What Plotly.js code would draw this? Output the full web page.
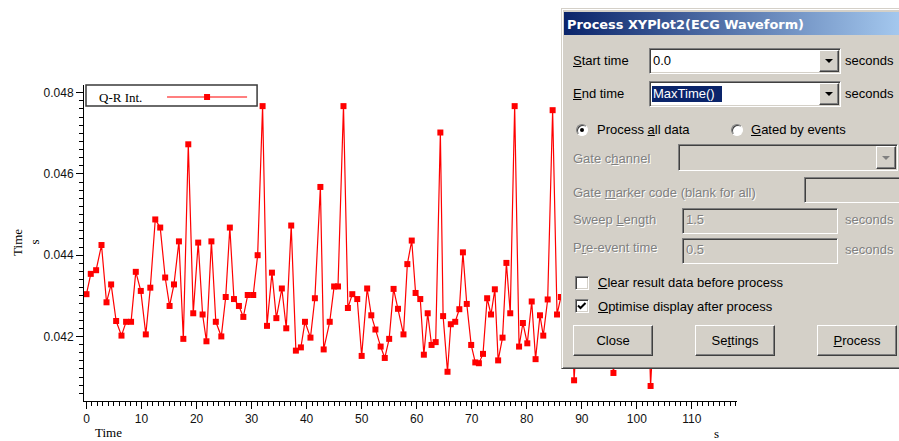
<!DOCTYPE html>
<html><head><meta charset="utf-8">
<script src="https://cdn.plot.ly/plotly-3.0.1.min.js"></script>
<style>
html,body{margin:0;padding:0;background:#fff;}
#wrap{position:relative;width:899px;height:441px;overflow:hidden;}
#chart{position:absolute;left:0;top:0;width:899px;height:441px;}
.dlg{position:absolute;left:561px;top:8px;width:343px;height:359px;background:#D4D0C8;border:1px solid;border-color:#D4D0C8 #404040 #404040 #D4D0C8;box-shadow:inset 1px 1px #fff,inset -1px -1px #808080;}
.title{position:absolute;left:564px;top:12px;width:340px;height:23px;background:linear-gradient(to right,#0A246A,#A6CAF0);}
.tt{position:absolute;left:567px;top:16px;font:bold 12.9px "DejaVu Sans",sans-serif;color:#fff;white-space:nowrap;line-height:17px;}
.t{position:absolute;font:13px "Liberation Sans",Arial,sans-serif;color:#000;line-height:16px;white-space:nowrap;}
.dis{color:#808080;text-shadow:1px 1px 0 #fff;}
.sunk{position:absolute;box-sizing:border-box;border:1px solid;border-color:#808080 #fff #fff #808080;box-shadow:inset 1px 1px #404040,inset -1px -1px #D4D0C8;background:#fff;}
.sunk.g{background:#D4D0C8;}
.btn{position:absolute;box-sizing:border-box;background:#D4D0C8;border:1px solid;border-color:#fff #404040 #404040 #fff;box-shadow:inset -1px -1px #808080;font:13px "Liberation Sans",Arial,sans-serif;text-align:center;}
.arr{position:absolute;width:0;height:0;border-left:4px solid transparent;border-right:4px solid transparent;border-top:4px solid #000;}
.radio{position:absolute;width:12px;height:12px;box-sizing:border-box;border-radius:50%;background:#fff;border:1px solid;border-color:#808080 #fff #fff #808080;box-shadow:inset 1px 1px #404040;}
.hl{position:absolute;background:#0A246A;}
</style></head><body>
<div id="wrap"><div id="chart"></div>

<div class="dlg"></div>
<div class="title"></div>
<div class="tt">Process XYPlot2(ECG Waveform)</div>

<div class="t" style="left:573px;top:53px;"><u>S</u>tart time</div>
<div class="sunk" style="left:649px;top:48px;width:192px;height:26px;"></div>
<div class="t" style="left:653px;top:53px;">0.0</div>
<div class="btn" style="left:819px;top:50px;width:20px;height:22px;"></div>
<div class="arr" style="left:825px;top:59px;"></div>
<div class="t" style="left:845px;top:53px;">seconds</div>

<div class="t" style="left:573px;top:86px;"><u>E</u>nd time</div>
<div class="sunk" style="left:649px;top:81px;width:192px;height:26px;"></div>
<div class="hl" style="left:652px;top:86px;width:70px;height:16px;"></div>
<div class="t" style="left:653px;top:86px;color:#fff;">MaxTime()</div>
<div class="btn" style="left:819px;top:83px;width:20px;height:22px;"></div>
<div class="arr" style="left:825px;top:92px;"></div>
<div class="t" style="left:845px;top:86px;">seconds</div>

<div class="radio" style="left:576px;top:124px;"></div>
<div style="position:absolute;left:580px;top:128px;width:4px;height:4px;border-radius:50%;background:#000;"></div>
<div class="t" style="left:597px;top:122px;">Process <u>a</u>ll data</div>
<div class="radio" style="left:731px;top:124px;"></div>
<div class="t" style="left:751px;top:122px;"><u>G</u>ated by events</div>

<div class="t dis" style="left:573px;top:151px;">Gate c<u>h</u>annel</div>
<div class="sunk g" style="left:678px;top:144px;width:220px;height:27px;"></div>
<div class="btn" style="left:876px;top:146px;width:20px;height:23px;"></div>
<div class="arr" style="left:882px;top:156px;border-top-color:#808080;"></div>

<div class="t dis" style="left:573px;top:185px;">Gate <u>m</u>arker code (blank for all)</div>
<div class="sunk g" style="left:804px;top:177px;width:110px;height:26px;"></div>

<div class="t dis" style="left:573px;top:212px;">Sweep <u>L</u>ength</div>
<div class="sunk g" style="left:682px;top:208px;width:156px;height:26px;"></div>
<div class="t dis" style="left:686px;top:212px;">1.5</div>
<div class="t dis" style="left:845px;top:212px;">seconds</div>

<div class="t dis" style="left:573px;top:240px;">P<u>r</u>e-event time</div>
<div class="sunk g" style="left:682px;top:238px;width:156px;height:26px;"></div>
<div class="t dis" style="left:686px;top:242px;">0.5</div>
<div class="t dis" style="left:845px;top:242px;">seconds</div>

<div class="sunk" style="left:575px;top:276px;width:14px;height:14px;"></div>
<div class="t" style="left:598px;top:275px;"><u>C</u>lear result data before process</div>

<div class="sunk" style="left:575px;top:299px;width:14px;height:14px;"></div>
<svg style="position:absolute;left:577px;top:301px;" width="10" height="10"><polyline points="1,4.5 3.5,7 8.5,2" fill="none" stroke="#000" stroke-width="2"/></svg>
<div class="t" style="left:598px;top:299px;"><u>O</u>ptimise display after process</div>

<div class="btn" style="left:573px;top:325px;width:80px;height:31px;line-height:29px;">Close</div>
<div class="btn" style="left:695px;top:325px;width:80px;height:31px;line-height:29px;">Se<u>t</u>tings</div>
<div class="btn" style="left:817px;top:325px;width:80px;height:31px;line-height:29px;"><u>P</u>rocess</div>
</div>

<script>
const seriesName = "Q-R Int.";
const time = [0,0.78,1.75,2.73,3.64,4.48,5.39,6.36,7.2,8.1,8.96,9.87,10.78,11.6,12.5,13.4,14.3,15.1,15.9,16.8,
 17.6,18.5,19.4,20.3,21.1,21.8,22.7,23.5,24.5,25.3,26.05,26.8,27.7,28.5,29.3,30.3,31.1,32.0,32.8,33.7,
 34.5,35.5,36.3,37.2,38.05,38.96,39.7,40.7,41.5,42.5,43.1,44.2,45.0,45.7,46.7,47.5,48.3,49.2,50.0,51.0,
 51.75,52.5,53.45,54.2,55.0,55.8,56.6,57.6,58.3,59.1,59.8,60.65,61.3,62.0,62.7,63.45,64.3,64.8,65.6,66.2,
 67.0,67.75,68.4,69.1,69.9,70.65,71.3,72.05,72.8,73.5,74.2,74.8,75.6,76.3,77.0,77.8,78.6,79.3,80.1,80.9,
 81.6,82.4,83.0,83.8,84.7,85.5,86.2,87.0,87.8,88.6,89.4,90.2,91.0,91.8,92.6,93.4,94.2,95.0,95.75,96.5,
 97.3,98.1,98.9,99.7,100.5,101.3,102.0,102.5,103.3];
const qrInterval = [0.04304,0.04354,0.04363,0.04425,0.04284,0.04328,0.04238,0.04202,0.04236,0.04236,
 0.04359,0.04312,0.04205,0.04320,0.04488,0.04468,0.04345,0.04275,0.04328,0.04434,
 0.04194,0.04673,0.04257,0.04431,0.04254,0.04188,0.04434,0.04236,0.04200,0.04297,
 0.04468,0.04292,0.04275,0.04248,0.04302,0.04302,0.04400,0.04767,0.04226,0.04357,
 0.04245,0.04318,0.04220,0.04473,0.04165,0.04173,0.04236,0.04197,0.04294,0.04568,
 0.04168,0.04236,0.04323,0.04323,0.04767,0.04270,0.04304,0.04292,0.04152,0.04318,
 0.04252,0.04217,0.04175,0.04147,0.04194,0.04317,0.04268,0.04205,0.04378,0.04436,
 0.04307,0.04292,0.04155,0.04257,0.04179,0.04186,0.04702,0.04250,0.04113,0.04230,
 0.04236,0.04267,0.04407,0.04280,0.04179,0.04136,0.04134,0.04157,0.04294,0.04254,
 0.04316,0.04141,0.04197,0.04381,0.04257,0.04767,0.04175,0.04233,0.04183,0.04286,
 0.04144,0.04252,0.04202,0.04291,0.04757,0.04254,0.04297,0.04300,0.04450,0.04092,
 0.04280,0.04320,0.04260,0.04380,0.04290,0.04470,0.04310,0.04240,0.04110,0.04220,
 0.04360,0.04290,0.04630,0.04270,0.04330,0.04250,0.04310,0.04078,0.04290];
const xTitle = "Time", xUnit = "s", yTitle = "Time", yUnit = "s";

// plot-area geometry (pixels) for decorations
const L = 84, T = 85, W = 652.7, H = 316;
const px = x => (x - L) / W;
const py = y => (T + H - y) / H;

const serif = "Liberation Serif, Times New Roman, serif";
const sans = "Liberation Sans, Arial, sans-serif";

const trace = {
  x: time, y: qrInterval, type: "scatter", mode: "lines+markers", name: seriesName,
  line: {color: "#FF0000", width: 1.2},
  marker: {symbol: "square", size: 6, color: "#FF0000"},
  showlegend: false, hoverinfo: "skip"
};

const layout = {
  width: 899, height: 441,
  margin: {l: L, r: 899 - L - W, t: T, b: 441 - T - H, pad: 0},
  paper_bgcolor: "#fff", plot_bgcolor: "#fff",
  showlegend: false,
  xaxis: {
    range: [-0.45, 118.2], tick0: 0, dtick: 10, ticks: "outside", ticklen: 7, tickcolor: "#000",
    showline: true, linecolor: "#000", linewidth: 1, showgrid: false, zeroline: false,
    tickfont: {family: sans, size: 12, color: "#111"},
    minor: {tick0: 0, dtick: 1, ticks: "outside", ticklen: 4, tickcolor: "#000", showgrid: false}
  },
  yaxis: {
    range: [0.04041, 0.04819], tick0: 0, dtick: 0.002, tickformat: ".3f",
    ticks: "outside", ticklen: 7, tickcolor: "#000",
    showline: true, linecolor: "#000", linewidth: 1, showgrid: false, zeroline: false,
    tickfont: {family: sans, size: 12, color: "#111"},
    minor: {tick0: 0, dtick: 0.0002, ticks: "outside", ticklen: 4, tickcolor: "#000", showgrid: false}
  },
  shapes: [
    {type: "rect", xref: "paper", yref: "paper", x0: px(86), x1: px(257), y0: py(106), y1: py(85),
     line: {color: "#3a3a3a", width: 1.5}, fillcolor: "#fff", layer: "above"},
    {type: "line", xref: "paper", yref: "paper", x0: px(167), x1: px(247), y0: py(97), y1: py(97),
     line: {color: "#FF0000", width: 1.2}, layer: "above"},
    {type: "rect", xref: "paper", yref: "paper", x0: px(204), x1: px(210), y0: py(100), y1: py(94),
     line: {width: 0}, fillcolor: "#FF0000", layer: "above"}
  ],
  annotations: [
    {text: seriesName, xref: "paper", yref: "paper", x: px(97), y: py(97), xanchor: "left", yanchor: "middle",
     showarrow: false, font: {family: serif, size: 13, color: "#000"}},
    {text: yTitle, xref: "paper", yref: "paper", x: px(17), y: py(242), xanchor: "center", yanchor: "middle",
     textangle: -90, showarrow: false, font: {family: serif, size: 13, color: "#000"}},
    {text: yUnit, xref: "paper", yref: "paper", x: px(34.5), y: py(242), xanchor: "center", yanchor: "middle",
     textangle: -90, showarrow: false, font: {family: serif, size: 13, color: "#000"}},
    {text: xTitle, xref: "paper", yref: "paper", x: px(108), y: py(432), xanchor: "center", yanchor: "middle",
     showarrow: false, font: {family: serif, size: 13, color: "#000"}},
    {text: xUnit, xref: "paper", yref: "paper", x: px(716), y: py(433), xanchor: "center", yanchor: "middle",
     showarrow: false, font: {family: serif, size: 13, color: "#000"}}
  ]
};

Plotly.newPlot("chart", [trace], layout, {staticPlot: true, displayModeBar: false});
</script>
</body></html>
